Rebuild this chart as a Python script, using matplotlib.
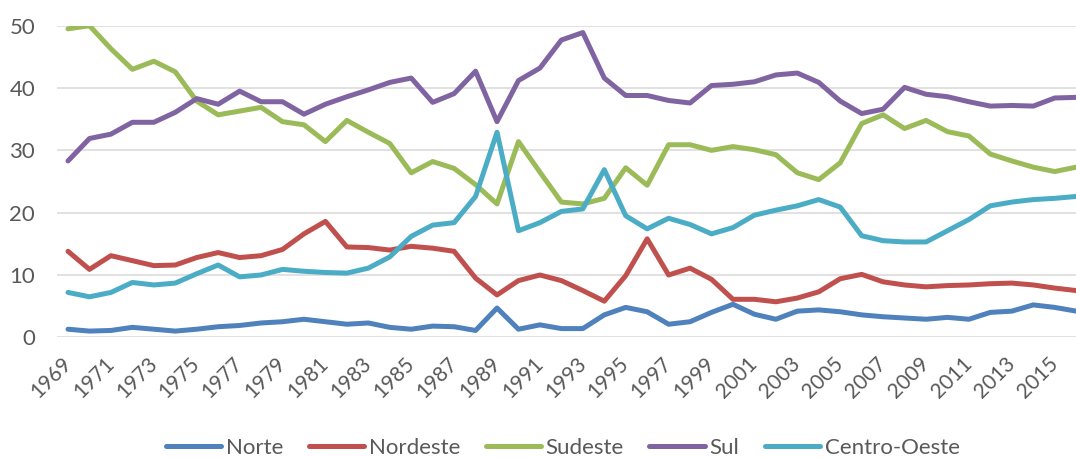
import matplotlib.pyplot as plt

# Participacao regional (%) por ano
years = list(range(1969, 2017))

norte = [1.3, 1.0, 1.1, 1.6, 1.3, 1.0, 1.3, 1.7, 1.9, 2.3, 2.5, 2.9, 2.5, 2.1, 2.3, 1.6,
         1.3, 1.8, 1.7, 1.1, 4.7, 1.3, 2.0, 1.4, 1.4, 3.6, 4.8, 4.1, 2.1, 2.5, 4.0, 5.3,
         3.7, 2.9, 4.2, 4.4, 4.1, 3.6, 3.3, 3.1, 2.9, 3.2, 2.9, 4.0, 4.2, 5.2, 4.8, 4.2]
nordeste = [13.8, 10.9, 13.1, 12.3, 11.5, 11.6, 12.8, 13.6, 12.8, 13.1, 14.1, 16.6, 18.6, 14.5, 14.4, 14.0,
            14.6, 14.3, 13.8, 9.5, 6.8, 9.1, 10.0, 9.1, 7.5, 5.8, 9.9, 15.8, 10.0, 11.1, 9.3, 6.1,
            6.1, 5.7, 6.3, 7.3, 9.4, 10.1, 8.9, 8.4, 8.1, 8.3, 8.4, 8.6, 8.7, 8.4, 7.9, 7.5]
sudeste = [49.5, 50.0, 46.3, 43.0, 44.3, 42.6, 37.9, 35.7, 36.3, 36.9, 34.6, 34.1, 31.4, 34.8, 32.9, 31.1,
           26.4, 28.2, 27.1, 24.5, 21.4, 31.4, 26.5, 21.7, 21.4, 22.3, 27.2, 24.4, 30.9, 30.9, 30.0, 30.6,
           30.1, 29.3, 26.4, 25.3, 28.0, 34.3, 35.7, 33.5, 34.8, 33.0, 32.3, 29.4, 28.3, 27.3, 26.6, 27.3]
sul = [28.3, 31.9, 32.6, 34.5, 34.5, 36.1, 38.3, 37.4, 39.5, 37.8, 37.8, 35.8, 37.4, 38.6, 39.7, 40.9,
       41.6, 37.7, 39.1, 42.7, 34.6, 41.2, 43.2, 47.7, 48.9, 41.6, 38.8, 38.8, 38.0, 37.6, 40.4, 40.6,
       41.0, 42.1, 42.4, 40.9, 37.9, 35.9, 36.6, 40.1, 39.0, 38.6, 37.8, 37.1, 37.2, 37.1, 38.4, 38.5]
centro_oeste = [7.2, 6.5, 7.2, 8.8, 8.4, 8.7, 10.2, 11.6, 9.7, 10.0, 10.9, 10.6, 10.4, 10.3, 11.1, 12.9,
                16.2, 18.0, 18.4, 22.6, 32.9, 17.1, 18.4, 20.2, 20.6, 26.9, 19.5, 17.4, 19.1, 18.1, 16.6, 17.6,
                19.6, 20.4, 21.1, 22.1, 20.9, 16.3, 15.5, 15.3, 15.3, 17.1, 18.9, 21.1, 21.7, 22.1, 22.3, 22.6]

series = [
    ("Norte", norte, "#4F81BD"),
    ("Nordeste", nordeste, "#C0504D"),
    ("Sudeste", sudeste, "#9BBB59"),
    ("Sul", sul, "#8064A2"),
    ("Centro-Oeste", centro_oeste, "#4BACC6"),
]

text_color = "#595959"
plt.rcParams['font.family'] = ['Lato', 'DejaVu Sans']

fig = plt.figure(figsize=(10.76, 4.58), dpi=100)
# plot area runs a bit past the right edge of the figure
ax = fig.add_axes([57.3 / 1076, 0.2635, 1029.6 / 1076, 0.6804])

x = list(range(len(years)))
for name, values, color in series:
    ax.plot(x, values, label=name, color=color, linewidth=3.6,
            solid_joinstyle='round', solid_capstyle='round')

ax.set_xlim(-0.5, len(years) - 0.5)
ax.set_ylim(0, 50)
ax.set_yticks(range(0, 51, 10))
ax.grid(axis='y', color='#D9D9D9', linewidth=1.1)
ax.set_axisbelow(True)
for spine in ax.spines.values():
    spine.set_visible(False)

ax.set_xticks(x[::2])
ax.set_xticklabels([str(y) for y in years[::2]], rotation=45, ha='right',
                   va='center', rotation_mode='anchor')
ax.tick_params(axis='x', length=0, pad=17, labelsize=15, labelcolor=text_color)
ax.tick_params(axis='y', length=0, pad=16, labelsize=16, labelcolor=text_color)

leg = fig.legend(loc='center', bbox_to_anchor=(0.523, 0.022), ncol=5, frameon=False,
                 fontsize=16, handlelength=2.5, handletextpad=0.2, columnspacing=1.15)
for text in leg.get_texts():
    text.set_color(text_color)
for line in leg.get_lines():
    line.set_linewidth(3.6)
    line.set_solid_capstyle('round')

fig.savefig("out.png", dpi=100)
